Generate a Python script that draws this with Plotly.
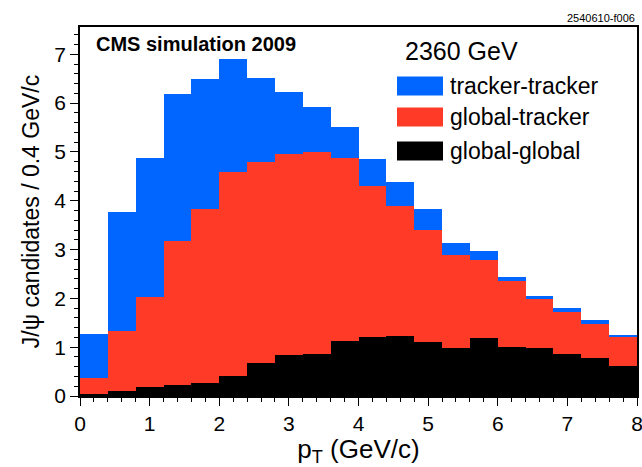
import plotly.graph_objects as go

bin_edges_lo = [0.0, 0.4, 0.8, 1.2, 1.6, 2.0, 2.4, 2.8, 3.2, 3.6,
                4.0, 4.4, 4.8, 5.2, 5.6, 6.0, 6.4, 6.8, 7.2, 7.6]
bin_width = 0.4

tracker_tracker = [1.27, 3.78, 4.88, 6.18, 6.49, 6.90, 6.52, 6.22, 5.93, 5.52,
                   4.86, 4.38, 3.83, 3.13, 2.97, 2.44, 2.05, 1.81, 1.55, 1.25]
global_tracker = [0.36, 1.33, 2.03, 3.18, 3.84, 4.59, 4.80, 4.95, 5.00, 4.88,
                  4.31, 3.90, 3.41, 2.88, 2.79, 2.35, 1.98, 1.72, 1.47, 1.20]
global_global = [0.03, 0.10, 0.18, 0.23, 0.27, 0.41, 0.68, 0.85, 0.86, 1.12,
                 1.20, 1.23, 1.10, 0.98, 1.19, 1.01, 0.98, 0.86, 0.78, 0.62]

series_names = ["tracker-tracker", "global-tracker", "global-global"]
colors = ["#0066FF", "#FF3A26", "#000000"]

centers = [lo + bin_width / 2 for lo in bin_edges_lo]

fig = go.Figure()
for name, vals, col in zip(series_names, [tracker_tracker, global_tracker, global_global], colors):
    fig.add_trace(go.Bar(x=centers, y=vals, width=bin_width, name=name,
                         marker=dict(color=col, line=dict(width=0)),
                         showlegend=False, hoverinfo="skip"))

font_family = "Liberation Sans, Arial, Helvetica, sans-serif"

W, H = 642, 467
L, R, T, B = 80, 5, 27, 71
pw, ph = W - L - R, H - T - B

fig.update_layout(
    width=W, height=H,
    margin=dict(l=L, r=R, t=T, b=B, autoexpand=False),
    paper_bgcolor="white", plot_bgcolor="white",
    barmode="overlay", bargap=0,
    font=dict(family=font_family, color="black"),
    xaxis=dict(range=[0, 8], dtick=1, tick0=0, ticks="outside", ticklen=8, tickwidth=1,
               tickcolor="black", showline=True, linecolor="black", linewidth=1.5, mirror=True,
               showgrid=False, zeroline=False, ticklabeloverflow="allow",
               tickfont=dict(size=21),
               minor=dict(dtick=0.2, ticks="outside", ticklen=4, tickcolor="black", showgrid=False),
               title=dict(text="p<sub>T</sub> (GeV/c)", font=dict(size=26), standoff=10)),
    yaxis=dict(range=[0, 7.56], dtick=1, tick0=0, ticks="outside", ticklen=8, tickwidth=1,
               tickcolor="black", showline=True, linecolor="black", linewidth=1.5, mirror=True,
               showgrid=False, zeroline=False,
               tickfont=dict(size=21),
               minor=dict(dtick=0.2, ticks="outside", ticklen=4, tickcolor="black", showgrid=False),
               title=dict(text="J/ψ candidates / 0.4 GeV/c", font=dict(size=23), standoff=8)),
)


def px(x):
    return (x - L) / pw


def py(y):
    return 1 - (y - T) / ph


fig.add_annotation(x=px(94), y=py(44), xref="paper", yref="paper", text="<b>CMS simulation 2009</b>",
                   showarrow=False, font=dict(size=20), xanchor="left", yanchor="middle")
fig.add_annotation(x=px(637), y=py(18), xref="paper", yref="paper", text="2540610-f006",
                   showarrow=False, font=dict(size=11), xanchor="right", yanchor="middle")
fig.add_annotation(x=px(403), y=py(51), xref="paper", yref="paper", text="2360 GeV",
                   showarrow=False, font=dict(size=25), xanchor="left", yanchor="middle")

rows_y = [86, 117, 151]
for name, col, yc in zip(series_names, colors, rows_y):
    fig.add_shape(type="rect", xref="paper", yref="paper",
                  x0=px(397), x1=px(443), y0=py(yc - 9.5), y1=py(yc + 9.5),
                  fillcolor=col, line=dict(width=0))
    fig.add_annotation(x=px(448), y=py(yc), xref="paper", yref="paper", text=name,
                       showarrow=False, font=dict(size=23), xanchor="left", yanchor="middle")

fig.write_html("out.html", config={"displayModeBar": False},
               post_script="document.body.style.margin='0px';document.body.style.padding='0px';")
